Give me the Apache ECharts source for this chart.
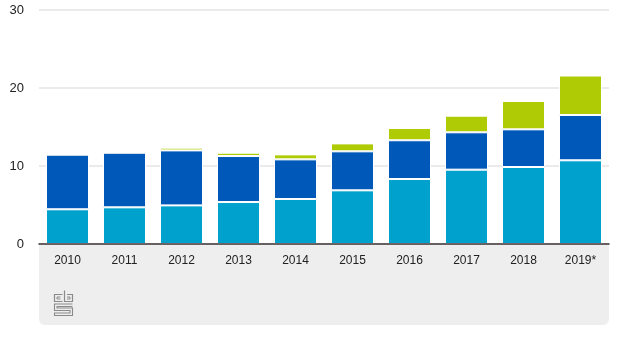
<!DOCTYPE html>
<html>
<head>
<meta charset="utf-8">
<style>html,body{margin:0;padding:0;background:#fff;}#c{width:620px;height:348px;}</style>
<script src="https://cdn.jsdelivr.net/npm/echarts@6/dist/echarts.min.js"></script>
</head>
<body>
<div id="c"></div>
<script>
const categories = ['2010','2011','2012','2013','2014','2015','2016','2017','2018','2019*'];
const lightBlue = [4.45, 4.7, 4.95, 5.38, 5.77, 6.88, 8.33, 9.53, 9.87, 10.73];
const darkBlue = [7.0, 7.0, 7.05, 5.9, 5.08, 5.0, 4.97, 4.79, 4.83, 5.81];
const green = [null, null, 0.35, 0.42, 0.64, 1.02, 1.57, 2.13, 3.63, 5.06];
const yTicks = [0, 10, 20, 30];

const chart = echarts.init(document.getElementById('c'), null, {renderer: 'canvas'});
const font = '"Liberation Sans", Arial, sans-serif';
const barStyle = (c) => ({color: c, borderColor: '#ffffff', borderWidth: 1});
const g = '#8a8a8a';
chart.setOption({
  animation: false,
  backgroundColor: '#ffffff',
  grid: {left: 39, right: 11, top: 10, bottom: 104},
  graphic: [
    {type: 'rect', z: -10, shape: {x: 39, y: 245, width: 570, height: 80, r: [0, 0, 6, 6]}, style: {fill: '#eeeeee'}},
    {type: 'group', left: 52, top: 288, z: 10, children: [
      {type: 'polyline', shape: {points: [[8,4],[0,4],[0,11],[8,11]]}, style: {stroke: g, lineWidth: 1.2, fill: null}},
      {type: 'polyline', shape: {points: [[6,6.5],[2.5,6.5],[2.5,8.5],[6,8.5]]}, style: {stroke: g, lineWidth: 1, fill: null}},
      {type: 'polyline', shape: {points: [[10,0],[10,11],[18,11],[18,4],[12.5,4]]}, style: {stroke: g, lineWidth: 1.2, fill: null}},
      {type: 'polyline', shape: {points: [[12.5,6.5],[15.5,6.5],[15.5,8.5],[12.5,8.5]]}, style: {stroke: g, lineWidth: 1, fill: null}},
      {type: 'polyline', shape: {points: [[18,13.5],[0,13.5],[0,20],[15.5,20],[15.5,22.5],[0,22.5],[0,25],[18,25],[18,17.5],[2.5,17.5],[2.5,16],[18,16]]}, style: {stroke: g, lineWidth: 1.1, fill: null}}
    ]}
  ],
  xAxis: {
    type: 'category',
    data: categories,
    axisLine: {show: true, lineStyle: {color: '#3d3333', width: 1.5}},
    axisTick: {show: false},
    axisLabel: {color: '#222', fontSize: 12, fontFamily: font, margin: 11},
    z: 5
  },
  yAxis: {
    type: 'value',
    min: yTicks[0],
    max: yTicks[yTicks.length - 1],
    interval: 10,
    axisLine: {show: false},
    axisTick: {show: false},
    splitLine: {lineStyle: {color: '#e4e4e4', width: 1.5}},
    axisLabel: {color: '#222', fontSize: 13, fontFamily: font, margin: 15}
  },
  series: [
    {type: 'bar', stack: 'a', data: lightBlue, barWidth: 43, itemStyle: barStyle('#00a1cd')},
    {type: 'bar', stack: 'a', data: darkBlue, barWidth: 43, itemStyle: barStyle('#0058b8')},
    {type: 'bar', stack: 'a', data: green, barWidth: 43, itemStyle: barStyle('#afcb05')}
  ]
});
</script>
</body>
</html>
